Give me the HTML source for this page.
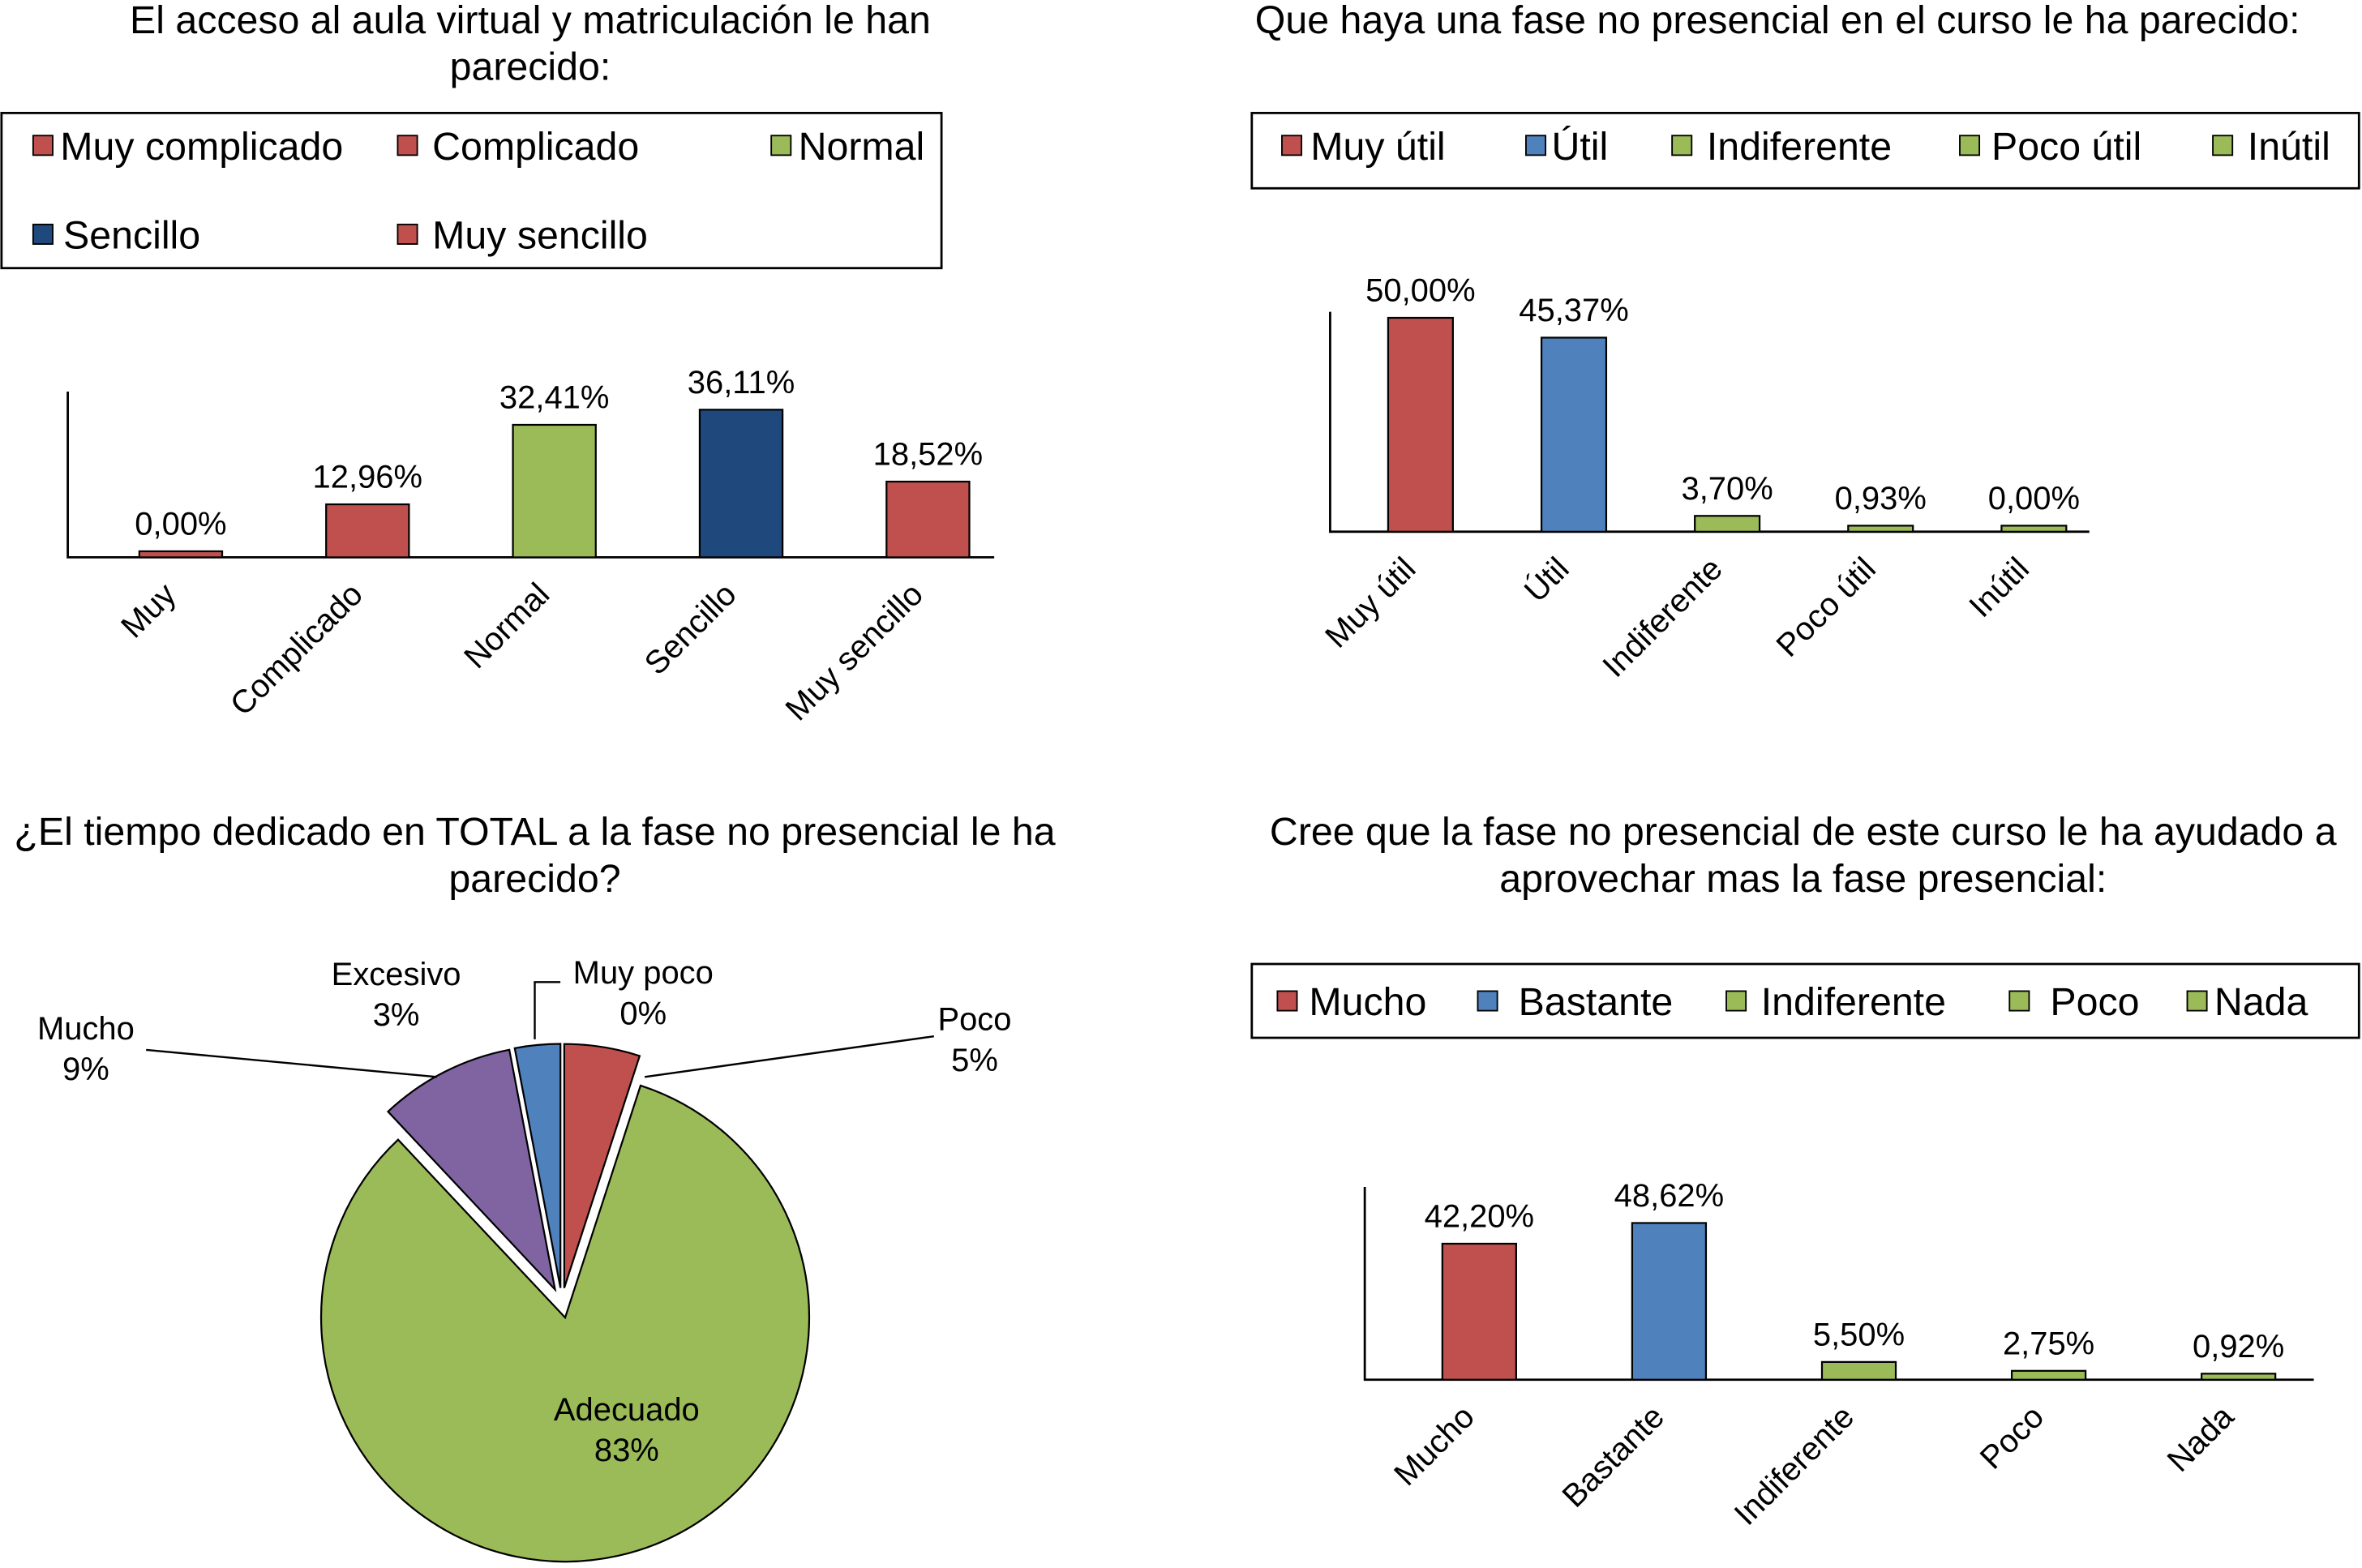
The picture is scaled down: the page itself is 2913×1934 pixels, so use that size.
<!DOCTYPE html>
<html><head><meta charset="utf-8"><style>
html,body{margin:0;padding:0;background:#fff;}
svg{display:block;font-family:"Liberation Sans",Arial,sans-serif;}
</style></head><body>
<svg id="root" width="2913" height="1934" viewBox="0 0 1568 1041" xmlns="http://www.w3.org/2000/svg">
<g id="c1">
<text x="352" y="22" font-size="26" text-anchor="middle">El acceso al aula virtual y matriculación le han</text>
<text x="352" y="53" font-size="26" text-anchor="middle">parecido:</text>
<rect x="1" y="75" width="624" height="103" fill="none" stroke="#000" stroke-width="1.5"/>
</g>
<g id="c2">
<text x="1180" y="22" font-size="26" text-anchor="middle">Que haya una fase no presencial en el curso le ha parecido:</text>
<rect x="831" y="75" width="735" height="50" fill="none" stroke="#000" stroke-width="1.5"/>
</g>
<g id="c3">
<text x="355" y="561" font-size="26" text-anchor="middle">¿El tiempo dedicado en TOTAL  a la fase no presencial le ha</text>
<text x="355" y="592" font-size="26" text-anchor="middle">parecido?</text>
</g>
<g id="c4">
<text x="1197" y="561" font-size="26" text-anchor="middle">Cree que la fase no presencial de este curso le ha ayudado a</text>
<text x="1197" y="592" font-size="26" text-anchor="middle">aprovechar mas la fase presencial:</text>
<rect x="831" y="640" width="735" height="49" fill="none" stroke="#000" stroke-width="1.5"/>
</g>
</svg>
<script>
const RED="#C0504D",GREEN="#9BBB59",DBLUE="#1F497D",BLUE="#4F81BD",PURPLE="#8064A2";
// Chart 1
const c1Cats=["Muy","Complicado","Normal","Sencillo","Muy sencillo"];
const c1Values=[0,12.96,32.41,36.11,18.52];
const c1Labels=["0,00%","12,96%","32,41%","36,11%","18,52%"];
const c1Colors=[RED,RED,GREEN,DBLUE,RED];
const c1Legend=["Muy complicado","Complicado","Normal","Sencillo","Muy sencillo"];
// Chart 2
const c2Cats=["Muy útil","Útil","Indiferente","Poco útil","Inútil"];
const c2Values=[50,45.37,3.70,0.93,0];
const c2Labels=["50,00%","45,37%","3,70%","0,93%","0,00%"];
const c2Colors=[RED,BLUE,GREEN,GREEN,GREEN];
// Chart 3
const c3Cats=["Muy poco","Poco","Adecuado","Mucho","Excesivo"];
const c3Values=[0,5,83,9,3];
const c3Labels=["0%","5%","83%","9%","3%"];
const c3Colors=[RED,RED,GREEN,PURPLE,BLUE];
// Chart 4
const c4Cats=["Mucho","Bastante","Indiferente","Poco","Nada"];
const c4Values=[42.20,48.62,5.50,2.75,0.92];
const c4Labels=["42,20%","48,62%","5,50%","2,75%","0,92%"];
const c4Colors=[RED,BLUE,GREEN,GREEN,GREEN];

const NS="http://www.w3.org/2000/svg";
function mk(parent,tag,attrs,txt){const e=document.createElementNS(NS,tag);for(const k in attrs)e.setAttribute(k,attrs[k]);if(txt!==undefined)e.textContent=txt;parent.appendChild(e);return e;}

function legend(g,items,colors,positions,prefix){
  items.forEach((t,i)=>{const p=positions[i];
    const r=mk(g,"rect",{x:p[0],y:p[1]-7,width:13,height:13,fill:colors[i],stroke:"#000","stroke-width":1});
    
    
    const tx=mk(g,"text",{x:p[0]+p[2],y:p[1]+9,"font-size":26},t);
    
    
  });
}
function bars(g,o,cats,vals,labs,cols,prefix){
  const ax=mk(g,"path",{d:`M${o.x0} ${o.yTop}V${o.y0}H${o.x1}`,fill:"none",stroke:"#000","stroke-width":1.5});
  
  
  cats.forEach((c,i)=>{
    const cx=o.c0+o.step*i;
    const h=Math.max(vals[i]*o.scale,4);
    const b=mk(g,"rect",{x:cx-o.w/2,y:o.y0-h,width:o.w,height:h,fill:cols[i],stroke:"#000","stroke-width":1.2});
    
    
    const l=mk(g,"text",{x:cx,y:o.y0-h-11,"font-size":21.5,"text-anchor":"middle"},labs[i]);
    
    
    const lx=cx-2,ly=o.y0+26;
    const xl=mk(g,"text",{x:lx,y:ly,"font-size":21.5,"text-anchor":"end",transform:`rotate(-45 ${lx} ${ly})`},c);
    
    
  });
}
const g1=document.getElementById("c1"),g2=document.getElementById("c2"),g3=document.getElementById("c3"),g4=document.getElementById("c4");
legend(g1,c1Legend,c1Colors,[[22,97,18],[264,97,23],[512,97,18],[22,156,20],[264,156,23]],"chart1");
bars(g1,{x0:45,x1:660,y0:370,yTop:260,c0:120,step:124,w:55,scale:2.714},c1Cats,c1Values,c1Labels,c1Colors,"chart1");
legend(g2,c2Cats,c2Colors,[[851,97,19],[1013,97,17],[1110,97,23],[1301,97,21],[1469,97,23]],"chart2");
bars(g2,{x0:883,x1:1387,y0:353,yTop:207,c0:943,step:101.8,w:43,scale:2.84},c2Cats,c2Values,c2Labels,c2Colors,"chart2");
legend(g4,c4Cats,c4Colors,[[848,665,21],[981,665,27],[1146,665,23],[1334,665,27],[1452,665,18]],"chart4");
bars(g4,{x0:906,x1:1536,y0:916,yTop:788,c0:982,step:126,w:49,scale:2.14},c4Cats,c4Values,c4Labels,c4Colors,"chart4");
// pie
const total=c3Values.reduce((a,b)=>a+b,0);
const cx=373,cy=865,R=162,off=10;
let ang=0;
c3Values.forEach((v,i)=>{
  const a0=ang,a1=ang+v/total*2*Math.PI;ang=a1;
  if(v<=0)return;
  const mid=(a0+a1)/2,ox=cx+off*Math.sin(mid),oy=cy-off*Math.cos(mid);
  const p0=[ox+R*Math.sin(a0),oy-R*Math.cos(a0)],p1=[ox+R*Math.sin(a1),oy-R*Math.cos(a1)];
  const large=(a1-a0)>Math.PI?1:0;
  const s=mk(g3,"path",{d:`M${ox} ${oy}L${p0[0]} ${p0[1]}A${R} ${R} 0 ${large} 1 ${p1[0]} ${p1[1]}Z`,fill:c3Colors[i],stroke:"#000","stroke-width":1.2});
  
  
});
const lbl=[[427,645],[647,676],[416,935],[57,682],[263,646]];
c3Cats.forEach((c,i)=>{
  const t1=mk(g3,"text",{x:lbl[i][0],y:lbl[i][1]+8,"font-size":21.5,"text-anchor":"middle"},c);
  
  
  const t2=mk(g3,"text",{x:lbl[i][0],y:lbl[i][1]+35,"font-size":21.5,"text-anchor":"middle"},c3Labels[i]);
  
  
});
[["M428 715L620 688"],["M355 690V652H372"],["M97 697L290 715"]].forEach(d=>{
  const l=mk(g3,"path",{d:d[0],fill:"none",stroke:"#000","stroke-width":1.3});
  
  
});
</script>
</body></html>
